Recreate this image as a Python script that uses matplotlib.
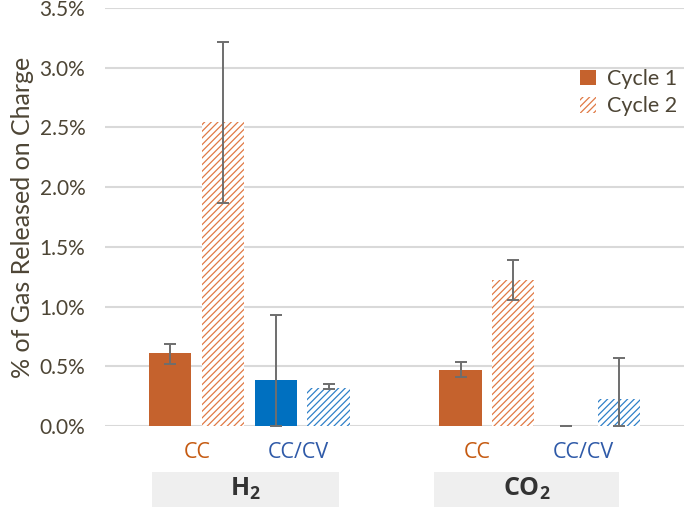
import numpy as np
import matplotlib
matplotlib.use("Agg")
import matplotlib.pyplot as plt
from matplotlib.patches import Patch, Rectangle

# data (% of gas released on charge)
categories = ["CC", "CC/CV", "CC", "CC/CV"]
gases = [r"$\mathbf{H_2}$", r"$\mathbf{CO_2}$"]
cycle1 = [0.61, 0.385, 0.465, 0.0]
cycle1_lo = [0.52, 0.0, 0.41, 0.0]
cycle1_hi = [0.69, 0.93, 0.537, 0.0]
cycle2 = [2.55, 0.32, 1.225, 0.223]
cycle2_lo = [1.87, 0.307, 1.058, 0.0]
cycle2_hi = [3.22, 0.353, 1.387, 0.566]

ORANGE = "#C5622D"
BLUE = "#0070C0"
ORANGE_H = "#E07A45"
BLUE_H = "#2F80C8"
TXT = "#4D4535"
GRID = "#D9D9D9"

plt.rcParams["font.family"] = ["Lato", "DejaVu Sans"]
plt.rcParams["hatch.linewidth"] = 0.9
plt.rcParams["mathtext.fontset"] = "custom"
plt.rcParams["mathtext.bf"] = "Open Sans:bold"
plt.rcParams["mathtext.rm"] = "Open Sans"

x = np.array([0.0, 1.0, 2.75, 3.75])
off, w = 0.25, 0.4
c1_colors = [ORANGE, BLUE, ORANGE, BLUE]
c2_colors = [ORANGE_H, BLUE_H, ORANGE_H, BLUE_H]

fig = plt.figure(figsize=(6.85, 5.07), dpi=100)
ax = fig.add_axes([0.153, 0.16, 0.846, 0.824])

for i in range(len(x)):
    ax.bar(x[i] - off, cycle1[i], width=w, color=c1_colors[i], zorder=2)
    ax.bar(x[i] + off, cycle2[i], width=w, color="white", edgecolor=c2_colors[i],
           hatch="/////", linewidth=0, zorder=2)

err1 = [np.array(cycle1) - np.array(cycle1_lo), np.array(cycle1_hi) - np.array(cycle1)]
err2 = [np.array(cycle2) - np.array(cycle2_lo), np.array(cycle2_hi) - np.array(cycle2)]
ax.errorbar(x - off, cycle1, yerr=err1, fmt="none", ecolor="#6E6E6E",
            elinewidth=1.4, capsize=4, capthick=1.4, zorder=3)
ax.errorbar(x + off, cycle2, yerr=err2, fmt="none", ecolor="#6E6E6E",
            elinewidth=1.4, capsize=4, capthick=1.4, zorder=3)

ax.set_ylim(0, 3.5)
ax.set_xlim(-0.87, 4.62)
ax.set_yticks(np.arange(0, 3.51, 0.5))
ax.set_yticklabels([f"{v:.1f}%" for v in np.arange(0, 3.51, 0.5)])
ax.set_xticks([])
ax.tick_params(axis="y", length=0, pad=14, labelsize=15, labelcolor=TXT)
ax.grid(axis="y", color=GRID, linewidth=1.5, zorder=0)
ax.set_axisbelow(True)
for s in ax.spines.values():
    s.set_visible(False)
ax.set_ylabel("% of Gas Released on Charge", fontsize=18, color=TXT, labelpad=4)

# category labels under bars
lab_x = [197, 298, 477, 583]
for lx, lab, c in zip(lab_x, categories, c1_colors):
    fig.text(lx / 685, 1 - 453 / 507, lab, ha="center", va="center",
             fontsize=15.5, color="#C55A11" if c == ORANGE else "#2F5AA8",
             family=["Open Sans", "DejaVu Sans"])

# gas group boxes
boxes = [(152, 339), (434, 619)]
for (x0, x1), g in zip(boxes, gases):
    fig.patches.append(Rectangle((x0 / 685, 0), (x1 - x0) / 685, 35 / 507,
                                 transform=fig.transFigure, facecolor="#EFEFEF",
                                 edgecolor="none"))
    fig.text((x0 + x1) / 2 / 685, 1 - 489 / 507, g, ha="center", va="center",
             fontsize=18, color="#333333")

handles = [Patch(facecolor=ORANGE, label="Cycle 1"),
           Patch(facecolor="white", edgecolor=ORANGE_H, hatch="/////", linewidth=0,
                 label="Cycle 2")]
leg = ax.legend(handles=handles, loc="upper left", bbox_to_anchor=(0.805, 0.875),
                frameon=False, fontsize=15.5, handlelength=0.75, handleheight=0.75,
                handletextpad=0.5, labelspacing=0.35, borderaxespad=0)
for t in leg.get_texts():
    t.set_color(TXT)

fig.savefig("out.png", dpi=100)
